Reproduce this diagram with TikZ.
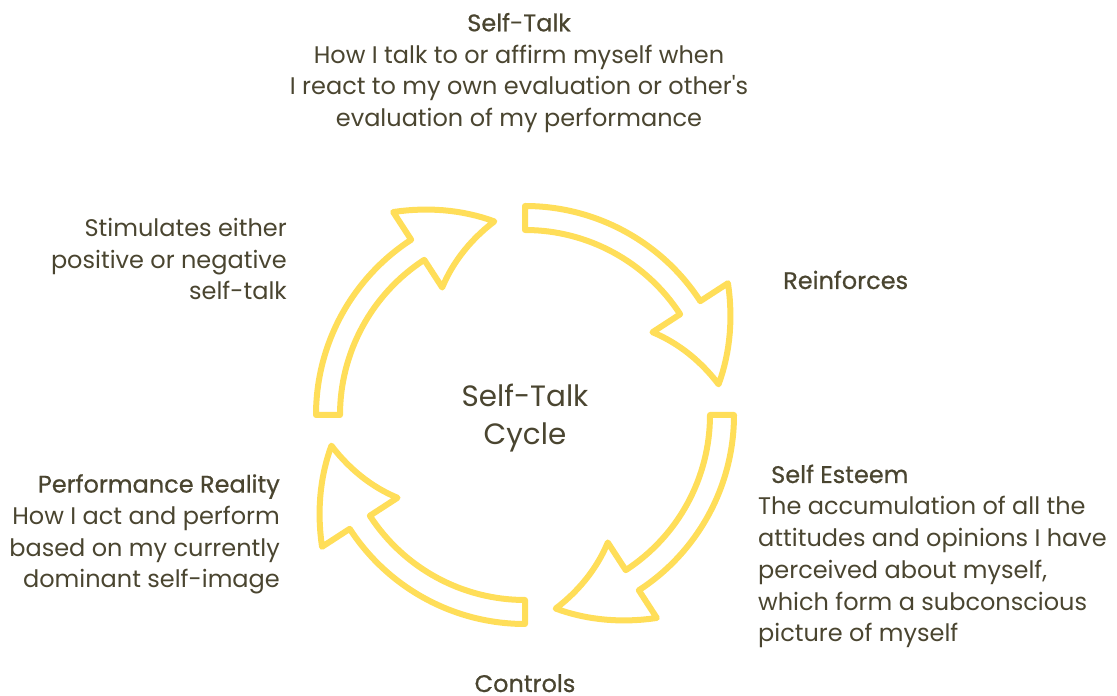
\documentclass[tikz,border=0pt]{standalone}
\usepackage{fontspec}
\setmainfont{Poppins}
\newfontfamily\headfont{Poppins}[FakeBold=0.6]
\definecolor{ink}{HTML}{4A4530}
\definecolor{sun}{HTML}{FFDE59}
% straight apostrophe
\newcommand\straightq{{\addfontfeatures{Ligatures=TeXOff}'}}

\tikzset{
  cyclearrow/.style={draw=sun, line width=6pt, line join=round, fill=white},
  body/.style={text=ink, font=\fontsize{24}{31.8}\selectfont, inner sep=0pt},
  hub/.style={text=ink, font=\fontsize{29.4}{38}\selectfont, inner sep=0pt, align=center},
}

\begin{document}
\begin{tikzpicture}[x=1pt, y=1pt]
\useasboundingbox (0,0) rectangle (1117,696);

% four curved arrows around the hub, clockwise
\begin{scope}[shift={(525,281)}]
\foreach \s in {180,90,0,-90}{
  \pgfmathsetmacro\b{\s-57}
  \pgfmathsetmacro\t{\s-81}
  \draw[cyclearrow] (\s:209) arc[start angle=\s, end angle=\b, radius=209]
    -- plot[domain=0:1, samples=16, variable=\u] ({\b-\u*(\b-\t)}:{242-46*\u})
    -- plot[domain=0.0667:1, samples=15, variable=\u] ({\t+\u*(\b-\t)}:{196-44*\u})
    -- (\b:185) arc[start angle=\b, end angle=\s, radius=185] -- cycle;
}
\end{scope}

% hub text (base anchor sits on the last line)
\node[hub, anchor=base] (hub) at (525,251) {Self-Talk\\Cycle};

% labels around the cycle
\node[body, anchor=base, align=center] (talk) at (519,569.3)
  {{\headfont Self-Talk}\\How I talk to or affirm myself when\\I react to my own evaluation or other\straightq s\\evaluation of my performance};
\node[body, anchor=base east, align=right] (stim) at (287,396)
  {Stimulates either\\positive or negative\hspace*{5pt}\\self-talk};
\node[body, anchor=base west] (reinf) at (783,407) {\headfont Reinforces};
\node[body, anchor=base west, align=left] (esteem) at (758,54)
  {\hspace*{13pt}{\headfont Self Esteem}\\The accumulation of all the\\attitudes and opinions I have\\perceived about myself,\\which form a subconscious\\picture of myself};
\node[body, anchor=base east, align=right] (perf) at (280,108)
  {{\headfont Performance Reality}\\How I act and perform\\based on my currently\\dominant self-image};
\node[body, anchor=base] (ctrl) at (525,4) {\headfont Controls};
\end{tikzpicture}
\end{document}
